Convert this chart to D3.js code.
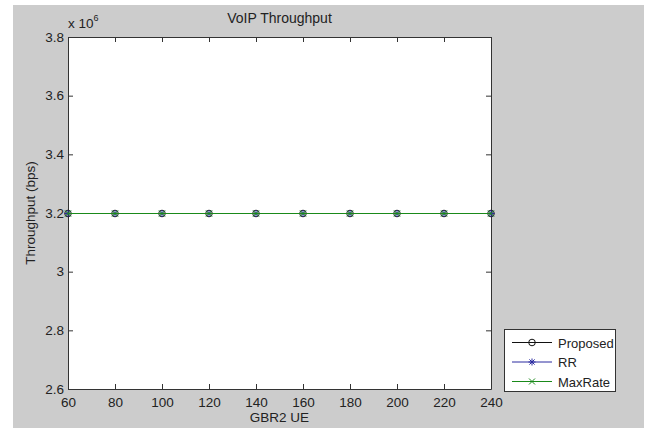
<!DOCTYPE html>
<html>
<head>
<meta charset="utf-8">
<script src="https://cdn.jsdelivr.net/npm/d3@7"></script>
<style>
  body { margin: 0; background: #fff; }
  svg text { font-family: "Liberation Sans", Arial, sans-serif; fill: #222; }
</style>
</head>
<body>
<svg id="chart" width="653" height="428"></svg>
<script>
var ue = [60, 80, 100, 120, 140, 160, 180, 200, 220, 240];
var proposed = [3.2, 3.2, 3.2, 3.2, 3.2, 3.2, 3.2, 3.2, 3.2, 3.2];
var rr = [3.2, 3.2, 3.2, 3.2, 3.2, 3.2, 3.2, 3.2, 3.2, 3.2];
var maxrate = [3.2, 3.2, 3.2, 3.2, 3.2, 3.2, 3.2, 3.2, 3.2, 3.2];
var yticks = [2.6, 2.8, 3, 3.2, 3.4, 3.6, 3.8];
var series_names = ['Proposed', 'RR', 'MaxRate'];

var svg = d3.select('#chart');
// plot box (window.top is taken, so no "top" here)
var p_left = 68, p_right = 491, p_top = 37, p_bottom = 389;
var fs = 13.5;

// grey figure background
svg.append('rect').attr('x', 13).attr('y', 5).attr('width', 631).attr('height', 423).attr('fill', '#cccccc');
svg.append('rect').attr('x', p_left).attr('y', p_top).attr('width', p_right - p_left).attr('height', p_bottom - p_top).attr('fill', '#fff');

var x = d3.scaleLinear().domain([60, 240]).range([p_left, p_right]);
var y = d3.scaleLinear().domain([2.6, 3.8]).range([p_bottom, p_top]);

var draw_axis = function(axis, tx, ty, labels) {
    var g = svg.append('g').attr('transform', 'translate(' + tx + ',' + ty + ')').call(axis);
    g.select('.domain').attr('stroke', '#333');
    g.selectAll('.tick line').attr('stroke', '#333');
    g.selectAll('.tick text').attr('font-size', fs).attr('fill', '#222');
    if (!labels) g.selectAll('.tick text').remove();
    return g;
};

draw_axis(d3.axisBottom(x).tickValues(ue).tickSizeInner(-5).tickSizeOuter(0).tickPadding(8).tickFormat(d3.format('d')), 0, p_bottom, true);
draw_axis(d3.axisTop(x).tickValues(ue).tickSizeInner(-5).tickSizeOuter(0), 0, p_top, false);
draw_axis(d3.axisLeft(y).tickValues(yticks).tickSizeInner(-5).tickSizeOuter(0).tickPadding(4).tickFormat(d3.format('')), p_left, 0, true);
draw_axis(d3.axisRight(y).tickValues(yticks).tickSizeInner(-5).tickSizeOuter(0), p_right, 0, false);

// exponent label
var ex = svg.append('text').attr('x', 68).attr('y', 28).attr('font-size', fs);
ex.append('tspan').text('x 10');
ex.append('tspan').attr('dy', -7).attr('font-size', 9).text('6');

svg.append('text').attr('x', (p_left + p_right) / 2).attr('y', 23).attr('text-anchor', 'middle').attr('font-size', 14).text('VoIP Throughput');
svg.append('text').attr('x', (p_left + p_right) / 2).attr('y', 422).attr('text-anchor', 'middle').attr('font-size', fs).text('GBR2 UE');
svg.append('text').attr('transform', 'translate(35,' + ((p_top + p_bottom) / 2) + ') rotate(-90)')
    .attr('text-anchor', 'middle').attr('font-size', fs).attr('fill', '#111').text('Throughput (bps)');

var colors = ['#111111', '#2a2aa0', '#1a8a1a'];
var draw_marker = function(g, kind, cx, cy, color) {
    if (kind == 0) {
        g.append('circle').attr('cx', cx).attr('cy', cy).attr('r', 3.3).attr('fill', 'none').attr('stroke', color).attr('stroke-width', 1);
    } else if (kind == 1) {
        var p = 'M' + (cx - 3.5) + ',' + cy + 'h7M' + cx + ',' + (cy - 3.5) + 'v7' +
                'M' + (cx - 2.6) + ',' + (cy - 2.6) + 'l5.2,5.2M' + (cx - 2.6) + ',' + (cy + 2.6) + 'l5.2,-5.2';
        g.append('path').attr('d', p).attr('stroke', color).attr('stroke-width', 1);
    } else {
        var q = 'M' + (cx - 3) + ',' + (cy - 3) + 'l6,6M' + (cx - 3) + ',' + (cy + 3) + 'l6,-6';
        g.append('path').attr('d', q).attr('stroke', color).attr('stroke-width', 1);
    }
};

var all = [proposed, rr, maxrate];
var line = d3.line().x(function(d, i) { return x(ue[i]); }).y(function(d) { return y(d) + 0.5; });
all.forEach(function(s, k) {
    var g = svg.append('g');
    g.append('path').attr('d', line(s)).attr('stroke', colors[k]).attr('stroke-width', 1).attr('fill', 'none');
    s.forEach(function(v, i) { draw_marker(g, k, x(ue[i]), y(v) + 0.5, colors[k]); });
});

// legend
var lg = svg.append('g');
lg.append('rect').attr('x', 504.5).attr('y', 329.5).attr('width', 111).attr('height', 62).attr('fill', '#fff').attr('stroke', '#333');
series_names.forEach(function(name, k) {
    var ly = 342.5 + k * 19.5;
    lg.append('line').attr('x1', 512).attr('x2', 552).attr('y1', ly).attr('y2', ly).attr('stroke', colors[k]);
    draw_marker(lg, k, 532, ly, colors[k]);
    lg.append('text').attr('x', 558).attr('y', ly + 5).attr('font-size', 13).text(name);
});
</script>
</body>
</html>
